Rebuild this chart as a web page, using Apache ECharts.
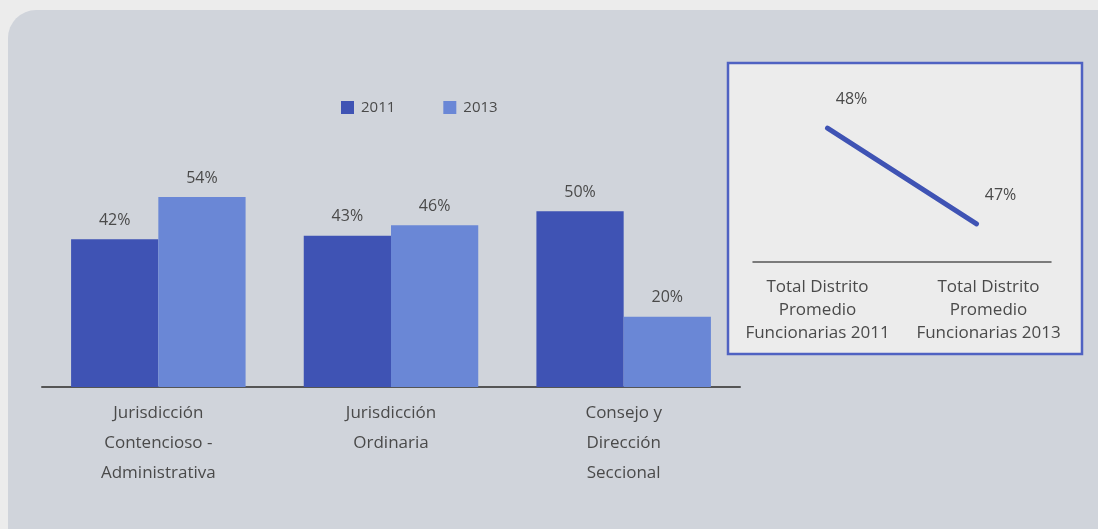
<!DOCTYPE html>
<html>
<head>
<meta charset="utf-8">
<script src="https://cdn.jsdelivr.net/npm/echarts@6/dist/echarts.min.js"></script>
<style>
  html, body { margin: 0; padding: 0; background: #ececec; }
  #chart { width: 1098px; height: 529px; }
</style>
</head>
<body>
<div id="chart"></div>
<script>
// Porcentaje de funcionarias por área
const categories = [
  'Jurisdicción\nContencioso -\nAdministrativa',
  'Jurisdicción\nOrdinaria',
  'Consejo y\nDirección\nSeccional'
];
const seriesNames = ['2011', '2013'];
const values2011 = [42, 43, 50];
const values2013 = [54, 46, 20];

// Promedio total del distrito
const totalCategories = [
  'Total Distrito\nPromedio\nFuncionarias 2011',
  'Total Distrito\nPromedio\nFuncionarias 2013'
];
const totalValues = [48, 47];

const FONT = '"Open Sans", "DejaVu Sans", sans-serif';
const DARK = '#3f53b4';
const LIGHT = '#6a87d6';
const TEXT = '#4a4a4a';

const chart = echarts.init(document.getElementById('chart'));

// The two inset labels sit slightly apart from each other
const insetLabelStyle = (pad) => ({
  fontFamily: FONT, fontSize: 17, color: TEXT, lineHeight: 23, padding: pad
});

chart.setOption({
  backgroundColor: '#ececec',
  animation: false,
  textStyle: { fontFamily: FONT },
  graphic: [
    {
      type: 'rect', z: -10, silent: true,
      shape: { x: 8, y: 10, width: 1100, height: 530, r: [28, 0, 0, 0] },
      style: { fill: '#d0d4db' }
    },
    {
      type: 'rect', z: -5, silent: true,
      shape: { x: 728, y: 63, width: 354, height: 291 },
      style: { fill: '#ececec', stroke: '#4f62c2', lineWidth: 2.5 }
    }
  ],
  legend: {
    data: seriesNames,
    left: 336, top: 95,
    itemWidth: 13, itemHeight: 13, itemGap: 48,
    icon: 'rect',
    textStyle: { fontFamily: FONT, fontSize: 15, color: TEXT, padding: [0, 0, 0, 2] }
  },
  grid: [
    { left: 42, width: 698, top: 176, height: 211 },
    { left: 753, width: 298, top: 90, height: 172 }
  ],
  xAxis: [
    {
      type: 'category', gridIndex: 0, data: categories,
      axisLine: { lineStyle: { color: '#555', width: 2 } },
      axisTick: { show: false },
      axisLabel: {
        fontFamily: FONT, fontSize: 17, color: TEXT,
        lineHeight: 30, margin: 11, interval: 0
      }
    },
    {
      type: 'category', gridIndex: 1, data: totalCategories,
      axisLine: { lineStyle: { color: '#555', width: 1.5 } },
      axisTick: { show: false },
      axisLabel: {
        margin: 14, interval: 0,
        formatter: (value, idx) => value.split('\n')
          .map(line => '{' + (idx === 0 ? 'l' : 'r') + '|' + line + '}')
          .join('\n'),
        rich: {
          l: insetLabelStyle([0, 20, 0, 0]),
          r: insetLabelStyle([0, 0, 0, 24])
        }
      }
    }
  ],
  yAxis: [
    { type: 'value', gridIndex: 0, min: 0, max: 60, show: false },
    { type: 'value', gridIndex: 1, min: 46.6, max: 48.4, show: false }
  ],
  series: [
    {
      name: seriesNames[0], type: 'bar', xAxisIndex: 0, yAxisIndex: 0,
      data: values2011, barGap: '0%', barCategoryGap: '25%',
      itemStyle: { color: DARK },
      label: {
        show: true, position: 'top', distance: 11,
        formatter: '{c}%', fontFamily: FONT, fontSize: 16, color: TEXT
      }
    },
    {
      name: seriesNames[1], type: 'bar', xAxisIndex: 0, yAxisIndex: 0,
      data: values2013, barGap: '0%', barCategoryGap: '25%',
      itemStyle: { color: LIGHT },
      label: {
        show: true, position: 'top', distance: 11,
        formatter: '{c}%', fontFamily: FONT, fontSize: 16, color: TEXT
      }
    },
    {
      name: 'Total', type: 'line', xAxisIndex: 1, yAxisIndex: 1,
      data: totalValues, symbol: 'circle', symbolSize: 1, showSymbol: true,
      itemStyle: { color: DARK },
      lineStyle: { color: DARK, width: 5, cap: 'round' },
      label: {
        show: true, position: 'top', distance: 20, offset: [24, 0],
        formatter: '{c}%', fontFamily: FONT, fontSize: 16, color: TEXT
      }
    }
  ]
});
</script>
</body>
</html>
